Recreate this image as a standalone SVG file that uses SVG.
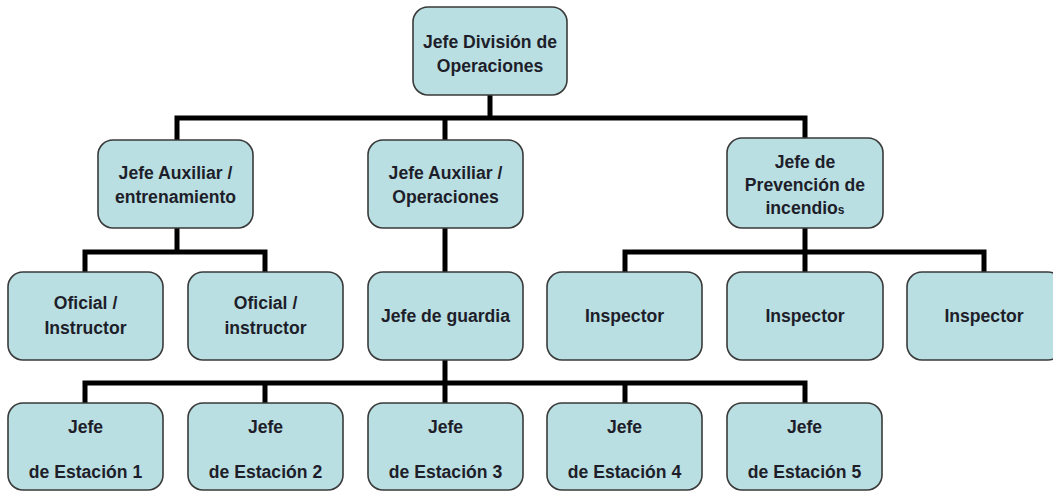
<svg xmlns="http://www.w3.org/2000/svg" width="1053" height="491" viewBox="0 0 1053 491">
<style>
.box{fill:#b9dfe2;stroke:#3a3a3a;stroke-width:1.6}
.t{font-family:"Liberation Sans",Arial,sans-serif;font-weight:bold;font-size:17.6px;fill:#1e1e2a;text-anchor:middle}
.c{fill:none;stroke:#000;stroke-width:5;stroke-linejoin:miter;stroke-linecap:butt}
</style>
<rect width="1053" height="491" fill="#fff"/>
<g id="connectors">
<path class="c" d="M490 95V118"/>
<path class="c" d="M177 140V118H805V138M445 118V140"/>
<path class="c" d="M177 228V252M85 272V252H265V272"/>
<path class="c" d="M445 228V272"/>
<path class="c" d="M805 228V272M625 272V252H984V272"/>
<path class="c" d="M445 360V383M85 403V383H805V403M265 383V403M445 383V403M625 383V403"/>
</g>
<g id="n-jefe-division"><rect class="box" x="413" y="7" width="154" height="88" rx="15"/><text class="t" x="490" y="48">Jefe División de</text><text class="t" x="490" y="72">Operaciones</text></g>
<g id="n-aux-entrenamiento"><rect class="box" x="98" y="140" width="155" height="88" rx="15"/><text class="t" x="175.5" y="179">Jefe Auxiliar /</text><text class="t" x="175.5" y="203">entrenamiento</text></g>
<g id="n-aux-operaciones"><rect class="box" x="368" y="140" width="155" height="88" rx="15"/><text class="t" x="445.5" y="179">Jefe Auxiliar /</text><text class="t" x="445.5" y="203">Operaciones</text></g>
<g id="n-prevencion"><rect class="box" x="727" y="138" width="156" height="90" rx="15"/><text class="t" x="805" y="168">Jefe de</text><text class="t" x="805" y="191">Prevención de</text><text class="t" x="805" y="214">incendio<tspan font-size="12">s</tspan></text></g>
<g id="n-oficial-1"><rect class="box" x="8" y="272" width="155" height="88" rx="15"/><text class="t" x="85.5" y="309">Oficial /</text><text class="t" x="85.5" y="334">Instructor</text></g>
<g id="n-oficial-2"><rect class="box" x="188" y="272" width="155" height="88" rx="15"/><text class="t" x="265.5" y="309">Oficial /</text><text class="t" x="265.5" y="334">instructor</text></g>
<g id="n-jefe-guardia"><rect class="box" x="368" y="272" width="155" height="88" rx="15"/><text class="t" x="445.5" y="322">Jefe de guardia</text></g>
<g id="n-inspector-1"><rect class="box" x="547" y="272" width="155" height="88" rx="15"/><text class="t" x="624.5" y="322">Inspector</text></g>
<g id="n-inspector-2"><rect class="box" x="727" y="272" width="156" height="88" rx="15"/><text class="t" x="805" y="322">Inspector</text></g>
<g id="n-inspector-3"><rect class="box" x="907" y="272" width="156" height="88" rx="15"/><text class="t" x="984" y="322">Inspector</text></g>
<g id="n-estacion-1"><rect class="box" x="8" y="403" width="155" height="87" rx="15"/><text class="t" x="85.5" y="433">Jefe</text><text class="t" x="85.5" y="478">de Estación 1</text></g>
<g id="n-estacion-2"><rect class="box" x="188" y="403" width="155" height="87" rx="15"/><text class="t" x="265.5" y="433">Jefe</text><text class="t" x="265.5" y="478">de Estación 2</text></g>
<g id="n-estacion-3"><rect class="box" x="368" y="403" width="155" height="87" rx="15"/><text class="t" x="445.5" y="433">Jefe</text><text class="t" x="445.5" y="478">de Estación 3</text></g>
<g id="n-estacion-4"><rect class="box" x="547" y="403" width="155" height="87" rx="15"/><text class="t" x="624.5" y="433">Jefe</text><text class="t" x="624.5" y="478">de Estación 4</text></g>
<g id="n-estacion-5"><rect class="box" x="727" y="403" width="155" height="87" rx="15"/><text class="t" x="804.5" y="433">Jefe</text><text class="t" x="804.5" y="478">de Estación 5</text></g>
</svg>
